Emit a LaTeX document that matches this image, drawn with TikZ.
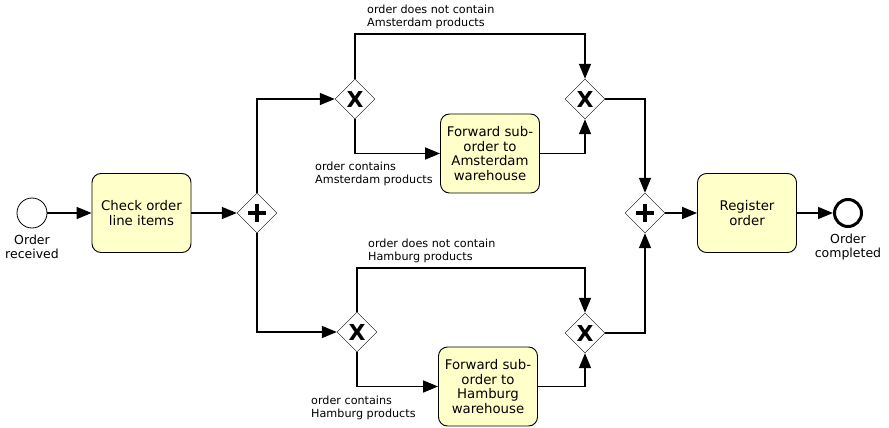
\documentclass[tikz,border=0pt]{standalone}
\usepackage{fontspec}
\setmainfont{DejaVu Sans}
\usetikzlibrary{shapes.geometric,arrows.meta,calc}
\definecolor{taskfill}{RGB}{255,255,202}

\tikzset{
  task/.style={draw,line width=0.9pt,rounded corners=9pt,fill=taskfill,minimum width=99pt,minimum height=79pt,
    align=center,inner sep=1pt,font=\fontsize{13.3}{14.5}\selectfont},
  gate/.style={draw,diamond,fill=white,minimum width=40pt,minimum height=40pt,inner sep=0pt},
  flow/.style={line width=1.5pt,-{Triangle[length=15pt,width=12pt]}},
  cond/.style={anchor=north west,inner sep=0pt,align=left,font=\fontsize{11.2}{12.5}\selectfont},
  evlabel/.style={align=center,inner sep=0pt,font=\fontsize{12.5}{14}\selectfont},
}

\begin{document}
\begin{tikzpicture}[x=1pt,y=-1pt]
    \useasboundingbox (0,0) rectangle (889,428);

    % events and tasks
    \node[draw,circle,minimum size=30pt,line width=0.8pt] (start) at (32,213) {};
    \node[evlabel] (startlbl) at (32,247) {Order\\received};
    \node[task] (check) at (141.5,213) {Check order\\line items};
    \node[task] (fwdA) at (490,153.5) {Forward sub-\\order to\\Amsterdam\\warehouse};
    \node[task] (fwdH) at (488,386.5) {Forward sub-\\order to\\Hamburg\\warehouse};
    \node[task] (reg) at (747,213) {Register\\order};
    \node[draw,circle,minimum size=27pt,line width=3pt] (end) at (848,213) {};
    \node[evlabel] (endlbl) at (848,247) {Order\\completed};

    % gateways
    \node[gate] (split) at (257,213) {};
    \node[gate] (join) at (645,213) {};
    \node[gate] (amsSplit) at (355,99) {};
    \node[gate] (amsJoin) at (585,99) {};
    \node[gate] (hamSplit) at (357,332) {};
    \node[gate] (hamJoin) at (585,333) {};

    \foreach \g in {split,join}
        \draw[line width=3.5pt] (\g) ++(-9,0) -- ++(18,0) (\g) ++(0,-9) -- ++(0,18);
    \foreach \g in {amsSplit,amsJoin,hamSplit,hamJoin}
        \node[font=\bfseries\fontsize{22}{22}\selectfont,inner sep=0pt] at (\g) {X};

    % sequence flows
    \draw[flow] (start) -- (check);
    \draw[flow] (check) -- (split);
    \draw[flow] (split.north) |- (amsSplit.west);
    \draw[flow] (split.south) |- (hamSplit.west);

    \draw[flow] (amsSplit.north) -- ++(0,-45) -| (amsJoin.north);
    \draw[flow] (amsSplit.south) |- (fwdA.west);
    \draw[flow] (fwdA.east) -| (amsJoin.south);
    \draw[flow] (hamSplit.north) -- ++(0,-44) -| (hamJoin.north);
    \draw[flow] (hamSplit.south) |- (fwdH.west);
    \draw[flow] (fwdH.east) -| (hamJoin.south);

    \draw[flow] (amsJoin.east) -| (join.north);
    \draw[flow] (hamJoin.east) -| (join.south);
    \draw[flow] (join) -- (reg);
    \draw[flow] (reg) -- (end);

    % conditions
    \node[cond] (amsNo) at (367,5) {order does not contain\\Amsterdam products};
    \node[cond] (amsYes) at (315,162) {order contains\\Amsterdam products};
    \node[cond] (hamNo) at (368,239) {order does not contain\\Hamburg products};
    \node[cond] (hamYes) at (311,396) {order contains\\Hamburg products};
\end{tikzpicture}
\end{document}
